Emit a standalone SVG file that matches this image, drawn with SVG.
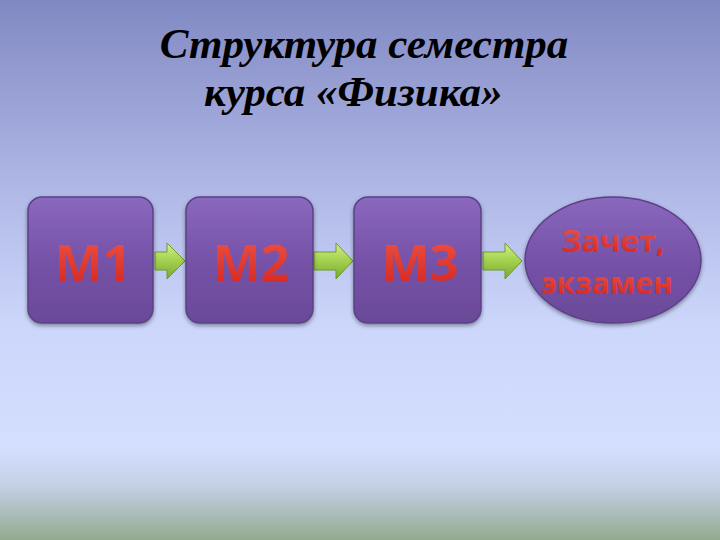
<svg xmlns="http://www.w3.org/2000/svg" width="720" height="540" viewBox="0 0 720 540">
<defs>
<linearGradient id="bg" x1="0" y1="0" x2="0" y2="1">
<stop offset="0" stop-color="#8189c3"/>
<stop offset="0.35" stop-color="#b0b8e6"/>
<stop offset="0.6" stop-color="#ccd6fb"/>
<stop offset="0.83" stop-color="#d4dfff"/>
<stop offset="0.9" stop-color="#c3d0e4"/>
<stop offset="1" stop-color="#93aa8f"/>
</linearGradient>
<linearGradient id="box" x1="0" y1="0" x2="0" y2="1">
<stop offset="0" stop-color="#8a68be"/>
<stop offset="0.5" stop-color="#7652a8"/>
<stop offset="1" stop-color="#6a4a98"/>
</linearGradient>
<linearGradient id="arr" x1="0" y1="0" x2="0" y2="1">
<stop offset="0" stop-color="#d6ee90"/>
<stop offset="0.45" stop-color="#a6d452"/>
<stop offset="1" stop-color="#7aa830"/>
</linearGradient>
<linearGradient id="txt" x1="0" y1="0" x2="0" y2="1">
<stop offset="0" stop-color="#f25a4a"/>
<stop offset="1" stop-color="#d0201c"/>
</linearGradient>
<filter id="sh" x="-20%" y="-20%" width="140%" height="140%">
<feGaussianBlur in="SourceAlpha" stdDeviation="2"/>
<feOffset dx="0" dy="2" result="b"/>
<feComponentTransfer><feFuncA type="linear" slope="0.4"/></feComponentTransfer>
<feMerge><feMergeNode/><feMergeNode in="SourceGraphic"/></feMerge>
</filter>
</defs>
<style>
.title{font-family:"Liberation Serif",serif;font-weight:bold;font-style:italic;font-size:43px;fill:#000}
.node{fill:url(#box);stroke:#5d4088;stroke-width:1.5;filter:url(#sh)}
.lbl{font-family:"Open Sans","Liberation Sans",sans-serif;font-weight:bold;fill:url(#txt);text-anchor:middle}
.a{fill:url(#arr);stroke:#6f9a2c;stroke-width:1;stroke-linejoin:round}
</style>
<rect width="720" height="540" fill="url(#bg)"/>
<text class="title" x="364" y="58" text-anchor="middle">Структура семестра</text>
<text class="title" x="204" y="106">курса «Физика»</text>
<g id="connectors">
<path class="a" d="M155,252 H167 V243 L185,261 L167,279 V270 H155 Z"/>
<path class="a" d="M314,252 H336 V243 L353,261 L336,279 V270 H314 Z"/>
<path class="a" d="M483,252 H505 V243 L522,261 L505,279 V270 H483 Z"/>
</g>
<g id="m1">
<rect class="node" x="28" y="197" width="125" height="126" rx="14"/>
<text class="lbl" x="93" y="281" font-size="51">М1</text>
</g>
<g id="m2">
<rect class="node" x="186" y="197" width="127" height="126" rx="14"/>
<text class="lbl" x="251" y="281" font-size="51">М2</text>
</g>
<g id="m3">
<rect class="node" x="354" y="197" width="127" height="126" rx="14"/>
<text class="lbl" x="420" y="281" font-size="51">М3</text>
</g>
<g id="exam">
<ellipse class="node" cx="613" cy="260" rx="88" ry="63"/>
<text class="lbl" x="613" y="252" font-size="31">Зачет,</text>
<text class="lbl" x="607" y="294" font-size="30">экзамен</text>
</g>
</svg>
